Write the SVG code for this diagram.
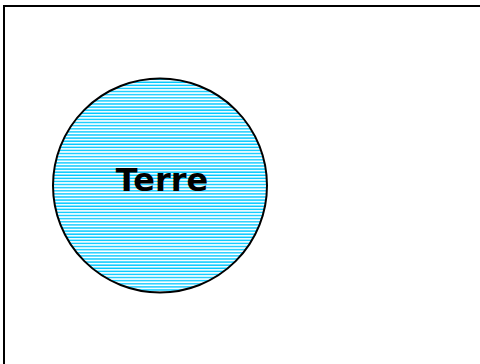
<svg xmlns="http://www.w3.org/2000/svg" width="480" height="364" viewBox="0 0 480 364">
<defs>
<pattern id="stripes" patternUnits="userSpaceOnUse" x="0" y="0" width="8" height="3.1">
<rect x="0" y="0" width="8" height="3.1" fill="#ffffff"/>
<rect x="0" y="1" width="8" height="1.4" fill="#00c8ff"/>
</pattern>
</defs>
<rect width="480" height="364" fill="#ffffff"/>
<rect x="4" y="6" width="490" height="380" fill="none" stroke="#000000" stroke-width="2"/>
<g id="terre">
<circle cx="160" cy="185.5" r="107" fill="url(#stripes)" stroke="#000000" stroke-width="2"/>
<text x="162" y="191" text-anchor="middle" font-family="'DejaVu Sans', Verdana, sans-serif" font-weight="bold" font-size="32" fill="#000000">Terre</text>
</g>
</svg>
